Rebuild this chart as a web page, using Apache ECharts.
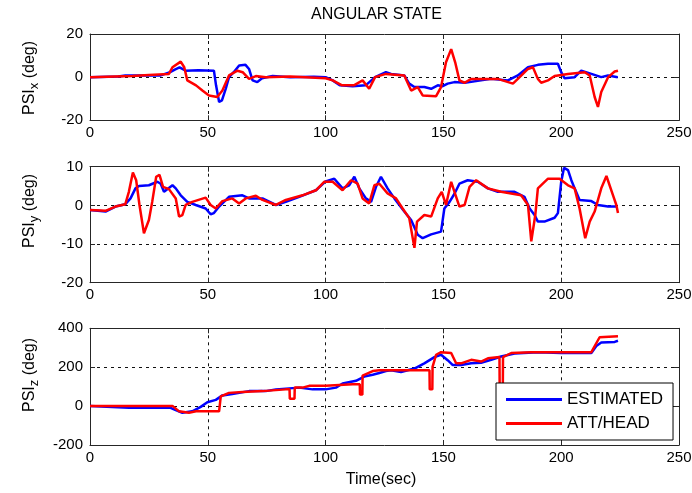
<!DOCTYPE html>
<html>
<head>
<meta charset="utf-8">
<script src="https://cdn.jsdelivr.net/npm/echarts@6/dist/echarts.min.js"></script>
<style>
  html, body { margin: 0; padding: 0; background: #fff; }
  #chart { width: 692px; height: 493px; }
</style>
</head>
<body>
<div id="chart"></div>
<script>
// Angular state history: estimator output vs. attitude/heading reference, [time s, deg]
const seriesNames = ['ESTIMATED', 'ATT/HEAD'];

const psiXEst = [
  [0, 0], [12, 0.3], [15, 0.8], [30, 0.8], [34, 2.3], [36, 3.5], [38, 4.5], [40.6, 3], [46, 3.2],
  [52.6, 3], [53.5, -3.8], [54.8, -11.5], [56, -10.8], [57.6, -5.4], [59, 0], [61, 2.3], [63.3, 5.4],
  [66, 5.7], [67.5, 3.8], [69, -1.5], [71, -2.3], [73, -0.5], [77.5, 0.5], [85, 0], [95, 0.2],
  [100, 0], [103, -1.5], [106, -3.8], [111.5, -4.2], [117, -3.8], [121, 0], [125.6, 2.3],
  [127.8, 1.5], [133.4, 0.8], [135.5, -3], [137.7, -4.6], [141.9, -4.6], [144.8, -5.4],
  [147.6, -3.8], [149.7, -4.2], [151.8, -3], [154.7, -2.3], [159, -2.6], [166, -1.5], [170.3, -0.8],
  [177.4, -1.5], [181.6, 0.8], [185.9, 4.6], [190.1, 5.7], [194.4, 6.2], [198.6, 6.2], [200, 2.3],
  [201.4, -0.5], [205.7, 0], [208.5, 3], [212.8, 1.5], [217, 0], [219.9, 0.8], [224, 0]
];
const psiXAtt = [
  [0, 0], [18, 0.5], [25, 1], [33.5, 1.5], [35, 4.6], [38.5, 7.2], [40, 4.6], [41.3, -1.5], [45, -3.8],
  [47.7, -6.2], [50.5, -8.5], [54, -9.2], [56.2, -6.2], [59, 0.8], [62.6, 3], [64.8, 2.3], [67.5, -0.8],
  [70.4, 0.5], [74.6, 0], [85, 0.3], [100, -0.5], [103, -1.5], [107, -3.8], [112, -3.8], [115.7, -1.5],
  [118.5, -5.4], [121, 0], [125.6, 1.5], [133.4, 0.8], [136.3, -6.2], [139.1, -4.6], [141.2, -8.5],
  [146.9, -8.8], [149, -4.6], [151.1, 6.9], [153.3, 13], [155, 6.9], [156.8, -1.5], [159, -2.6],
  [161.8, -0.8], [173.1, -0.8], [179.5, -3], [181.6, -0.8], [185.9, 3.8], [188, 4.6], [190.1, -0.8],
  [191.5, -2.6], [194.4, -1.5], [197.2, 0.5], [202.9, 1.5], [210, 2.3], [212.1, 0.8], [214.2, -9.2],
  [215.6, -13.8], [217, -6.9], [219.9, 0], [222.7, 2.6], [224.1, 3]
];

const psiYEst = [
  [0, -1.2], [6.6, -1.6], [10.8, -0.3], [15, 0.3], [17.2, 1.8], [19.3, 4.4], [20.8, 5], [25, 5.2],
  [28.6, 6.1], [30, 5.6], [31.4, 3.5], [35, 5.2], [36.4, 4.4], [38.5, 2.6], [41.3, 0.9], [44.9, 0.1],
  [49.1, -0.8], [51.2, -2.3], [52.6, -2], [54.8, -0.3], [59, 2.2], [64.7, 2.6], [67.5, 1.8], [73.2, 1.8],
  [78.9, 0.1], [83.1, 0.9], [88.8, 2.2], [95.9, 3.9], [100, 6.2], [103.7, 6.9], [107.2, 4.4], [110, 5.2],
  [112.2, 7.4], [114.3, 4.4], [117.1, 1.8], [119.3, 0.9], [121.4, 4.8], [123.5, 7.4], [126.3, 4.4],
  [129.2, 1.8], [133.4, -1.6], [136.3, -3.8], [139.1, -7.6], [141.2, -8.5], [144.8, -7.5], [149, -6.8],
  [150.4, -0.8], [152.6, 0.9], [154.7, 3], [156.8, 5.6], [160.3, 6.5], [164.6, 6.1], [168.9, 4.4],
  [173.1, 3.5], [180.2, 3.5], [184.4, 2.2], [186.6, -0.8], [188.7, -2.5], [190.1, -4.2], [192.9, -4.2],
  [197.2, -3.2], [198.6, -2], [200, 6.1], [201.2, 9.7], [202.9, 9.1], [204.3, 6.5], [205.7, 4.4],
  [207.8, 1.4], [212.8, 1.1], [215.6, 0.1], [219.9, -0.3], [223.4, -0.3]
];
const psiYAtt = [
  [0, -1.2], [6.6, -1.4], [10.8, -0.3], [15, 0.3], [16.5, 3.5], [18.2, 8.5], [19.6, 6.5], [21, 0.1],
  [22.9, -7.2], [25, -3.8], [26.4, 0.9], [28.1, 7.4], [29.5, 7.9], [31, 4.8], [33.5, 4.2], [36.4, 1.8],
  [37.8, -2.9], [39.2, -2.5], [40.6, 0.1], [43.4, 0.9], [49.1, 2], [51.2, 0.1], [53.4, -0.8], [56.2, 1.1],
  [60.4, 1.8], [63.3, 0.5], [66.1, 1.8], [70.4, 2.5], [73.2, 1.4], [78.9, 0.1], [83.1, 1.4], [90.2, 2.6],
  [95.9, 3.9], [99.4, 6.1], [103, 6.1], [107.2, 3.9], [110.8, 6.5], [113.6, 5.6], [115.7, 1.8],
  [118.5, 0.5], [120.7, 5.2], [122.8, 5.6], [126.3, 3.1], [129.9, 1.8], [132.7, -0.8], [135.5, -3.3],
  [137.7, -11], [138.8, -4.2], [141.9, -2.5], [144.8, -2.9], [147.6, 1.8], [149.3, 3.5], [151.1, 0.1],
  [153.3, 6.1], [154.7, 3.5], [156.8, -0.3], [159, 0.1], [161.1, 4.8], [163.9, 6.5], [168.9, 4.4],
  [174.5, 3.5], [183, 2.6], [185.9, 0.1], [187.3, -9.3], [189, -2.5], [190.1, 4.4], [194.4, 6.9],
  [199.3, 6.9], [202.9, 5.2], [205.7, 4.4], [207.8, -0.8], [210.2, -8.5], [212.1, -4.2], [214.2, -1.6],
  [217, 4.4], [219.2, 7.6], [222, 2.6], [223.4, 0.1], [224.1, -2]
];

const psiZEst = [
  [0, 0], [16.5, -9], [34.2, -9], [36.4, -21], [39.2, -34], [43.4, -27], [47, -4], [49.8, 20],
  [53.4, 32], [56.2, 55], [60.4, 62], [67.5, 77], [74.6, 77], [78.9, 86], [88.8, 95], [94.5, 86],
  [100, 86], [104.4, 95], [107.2, 116], [112.9, 130], [116.4, 152], [120, 161], [122.8, 170],
  [125.6, 180], [127.8, 184], [132, 175], [137.7, 193], [141.9, 220], [146.2, 252], [149, 264],
  [151.8, 236], [154, 211], [157.5, 211], [161.8, 220], [166, 223], [170.3, 238], [174.5, 255],
  [180.2, 270], [190.1, 277], [200, 273], [212.8, 273], [214.9, 309], [217, 327], [222.7, 330],
  [224.1, 336]
];
const psiZAtt = [
  [0, 1], [35, 1], [37.8, -27], [42, -34], [45, -27], [54.8, -27], [55.5, 50], [59, 68], [64.7, 73],
  [73.2, 77], [83.1, 86], [84.7, 86], [84.8, 38], [86.8, 38], [86.9, 95], [90.2, 95], [93, 104],
  [100, 104], [111.5, 112], [114.5, 112], [114.6, 59], [115.6, 59], [115.7, 157], [120, 180],
  [122.8, 184], [144.1, 184], [144.2, 86], [145.3, 86], [145.4, 202], [146.9, 264], [149, 277],
  [153.3, 273], [155.4, 220], [157.5, 220], [161.8, 238], [166, 229], [168.9, 246], [173.8, 252],
  [173.9, 60], [175.2, 60], [175.3, 252], [178.8, 273], [187.3, 277], [200, 277], [212.8, 277],
  [216.3, 354], [224.1, 359]
];

// Axis ranges per panel: [min, max, interval]
const timeRange = [0, 250, 50];
const psiXRange = [-20, 20, 20];
const psiYRange = [-20, 10, 10];
const psiZRange = [-200, 400, 200];

const FONT = 'Liberation Sans, Arial, Helvetica, sans-serif';
const INK = '#262626';
const BLUE = '#0000ff';
const RED = '#ff0000';

const panels = [
  { grid: { left: 90, top: 34, width: 589, height: 86.3 }, range: psiXRange, est: psiXEst, att: psiXAtt },
  { grid: { left: 90, top: 166.7, width: 589, height: 116 }, range: psiYRange, est: psiYEst, att: psiYAtt },
  { grid: { left: 90, top: 328.3, width: 589, height: 116.7 }, range: psiZRange, est: psiZEst, att: psiZAtt }
];

const dashed = { show: true, lineStyle: { color: '#111', width: 1, type: [3, 4] }, showMinLine: false, showMaxLine: false };
const tickIn = { show: true, inside: true, length: 5, lineStyle: { color: INK, width: 1 } };
const line = { show: true, onZero: false, lineStyle: { color: INK, width: 1 } };

const grid = [], xAxis = [], yAxis = [], series = [];
panels.forEach((p, i) => {
  grid.push(Object.assign({ outerBoundsMode: 'none', containLabel: false }, p.grid));
  // bottom and top time axes
  xAxis.push({
    type: 'value', gridIndex: i, position: 'bottom', min: timeRange[0], max: timeRange[1], interval: timeRange[2],
    axisLine: line, axisTick: tickIn, splitLine: dashed,
    axisLabel: { show: true, margin: 5, color: '#000', fontSize: 15, fontFamily: FONT, showMaxLabel: true, showMinLabel: true }
  });
  xAxis.push({
    type: 'value', gridIndex: i, position: 'top', min: timeRange[0], max: timeRange[1], interval: timeRange[2],
    axisLine: line, axisTick: tickIn, splitLine: { show: false }, axisLabel: { show: false }
  });
  // left and right angle axes
  yAxis.push({
    type: 'value', gridIndex: i, position: 'left', min: p.range[0], max: p.range[1], interval: p.range[2],
    axisLine: line, axisTick: tickIn, splitLine: dashed,
    axisLabel: { show: true, margin: 7, color: '#000', fontSize: 15, fontFamily: FONT }
  });
  yAxis.push({
    type: 'value', gridIndex: i, position: 'right', min: p.range[0], max: p.range[1], interval: p.range[2],
    axisLine: line, axisTick: tickIn, splitLine: { show: false }, axisLabel: { show: false }
  });
  const common = { type: 'line', xAxisIndex: 2 * i, yAxisIndex: 2 * i, showSymbol: false, symbol: 'none', clip: true, silent: true };
  series.push(Object.assign({ name: seriesNames[0], data: p.est, color: BLUE, lineStyle: { color: BLUE, width: 2.5 }, z: 2 }, common));
  series.push(Object.assign({ name: seriesNames[1], data: p.att, color: RED, lineStyle: { color: RED, width: 2.5 }, z: 3 }, common));
});

function yTitle(sub, x, y) {
  return {
    type: 'text', x: x, y: y, rotation: Math.PI / 2, silent: true,
    style: {
      text: '{a|PSI}{s|' + sub + '}{a| (deg)}',
      align: 'center', verticalAlign: 'middle', fill: '#000',
      rich: {
        a: { fontSize: 16, fontFamily: FONT, lineHeight: 22, verticalAlign: 'middle', fill: '#000' },
        s: { fontSize: 13, fontFamily: FONT, lineHeight: 13, verticalAlign: 'bottom', fill: '#000', padding: [0, 0, 0, 0] }
      }
    }
  };
}

const chart = echarts.init(document.getElementById('chart'), null, { renderer: 'canvas' });
chart.setOption({
  animation: false,
  backgroundColor: '#fff',
  grid: grid,
  xAxis: xAxis,
  yAxis: yAxis,
  series: series,
  legend: {
    data: seriesNames, orient: 'vertical', left: 496, top: 383,
    padding: [8, 10, 8, 10], itemGap: 7, itemWidth: 56, itemHeight: 3, icon: 'rect',
    borderColor: '#000', borderWidth: 1, borderRadius: 0, backgroundColor: '#fff',
    selectedMode: false, z: 10,
    textStyle: { fontSize: 17, fontFamily: FONT, color: '#000', lineHeight: 16 }
  },
  graphic: [
    { type: 'text', x: 376.5, y: 14.5, silent: true,
      style: { text: 'ANGULAR STATE', align: 'center', verticalAlign: 'middle', fontSize: 16, fontFamily: FONT, fill: '#000' } },
    { type: 'text', x: 381, y: 480, silent: true,
      style: { text: 'Time(sec)', align: 'center', verticalAlign: 'middle', fontSize: 16, fontFamily: FONT, fill: '#000' } },
    yTitle('x', 30, 78),
    yTitle('y', 30, 211),
    yTitle('z', 30, 375)
  ]
});
</script>
</body>
</html>
